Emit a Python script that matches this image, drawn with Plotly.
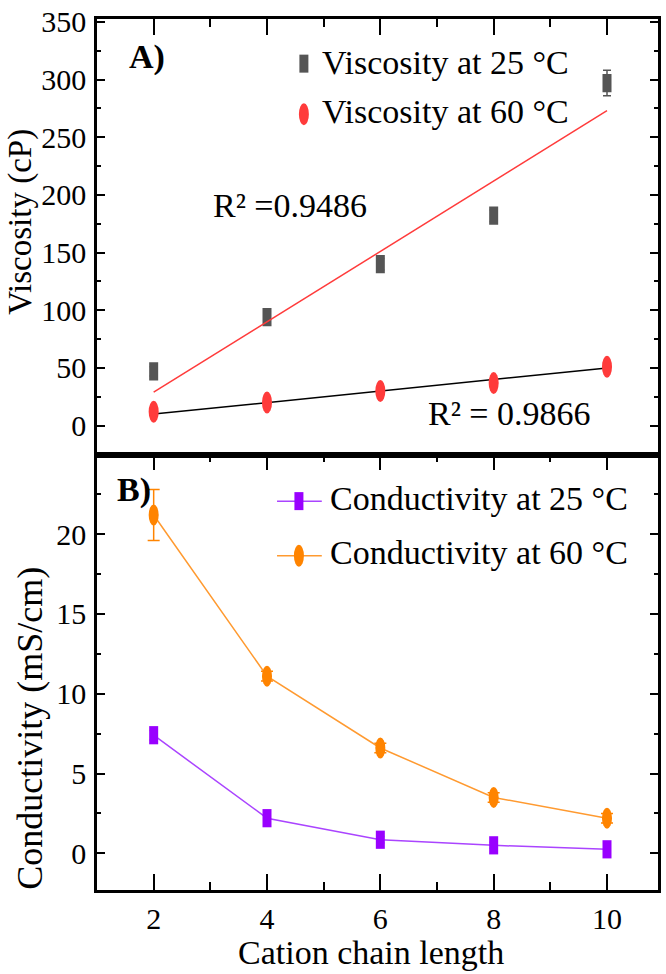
import plotly.graph_objects as go

# ---------------- data ----------------
chain_length = [2, 4, 6, 8, 10]

visc_25 = [47, 94, 140, 182, 297]
visc_25_err = [4, 5, 5, 5, 11]
visc_60 = [12, 20, 30, 37, 51]
visc_60_err = [2, 2, 2, 2, 3]

fit_x = [2, 10]
visc_25_fit = [29, 273]
visc_60_fit = [10, 50]

cond_25 = [7.4, 2.2, 0.85, 0.5, 0.25]
cond_25_err = [0.3, 0.3, 0.2, 0.2, 0.2]
cond_60 = [21.2, 11.1, 6.6, 3.5, 2.2]
cond_60_err = [1.6, 0.3, 0.3, 0.3, 0.3]

x_ticks = [2, 4, 6, 8, 10]
visc_ticks = [0, 50, 100, 150, 200, 250, 300, 350]
cond_ticks = [0, 5, 10, 15, 20]

legend_top = ["Viscosity at 25 °C", "Viscosity at 60 °C"]
legend_bot = ["Conductivity at 25 °C", "Conductivity at 60 °C"]
r2_25 = "R² =0.9486"
r2_60 = "R² = 0.9866"

# ---------------- style ----------------
W, H = 666, 974
ML, MR, MT, MB = 97, 5, 12, 84
PW, PH = W - ML - MR, H - MT - MB
FONT = "Liberation Serif, Times New Roman, serif"
GRAY = "#555555"
RED = "#FF3B3B"
PURPLE = "#9900FF"
PURPLE_LINE = "#AA44FF"
ORANGE = "#FF8400"
ORANGE_LINE = "#FF9A30"
RECT_SIZE = 13   # line-ns symbol height is ~1.4*size


def px(x):
    return (x - ML) / PW


def py(y):
    return (H - MB - y) / PH


fig = go.Figure()

# top panel: viscosity
fig.add_trace(go.Scatter(
    x=chain_length, y=visc_25, mode="markers", xaxis="x2", yaxis="y2",
    marker=dict(symbol="line-ns", size=RECT_SIZE, line=dict(width=9, color=GRAY), color=GRAY),
    error_y=dict(type="data", array=visc_25_err, color=GRAY, thickness=1.5, width=4),
    showlegend=False))
fig.add_trace(go.Scatter(
    x=fit_x, y=visc_25_fit, mode="lines", xaxis="x2", yaxis="y2",
    line=dict(color=RED, width=1.5), showlegend=False))
fig.add_trace(go.Scatter(
    x=fit_x, y=visc_60_fit, mode="lines", xaxis="x2", yaxis="y2",
    line=dict(color="black", width=1.5), showlegend=False))
fig.add_trace(go.Scatter(
    x=chain_length, y=visc_60, mode="markers", xaxis="x2", yaxis="y2",
    marker=dict(symbol="circle", size=9, color=RED, line=dict(width=0)),
    error_y=dict(type="data", array=visc_60_err, color=RED, thickness=1.5, width=4),
    showlegend=False))

# bottom panel: conductivity
fig.add_trace(go.Scatter(
    x=chain_length, y=cond_25, mode="lines+markers", xaxis="x", yaxis="y",
    line=dict(color=PURPLE_LINE, width=1.5),
    marker=dict(symbol="line-ns", size=RECT_SIZE, line=dict(width=9, color=PURPLE), color=PURPLE),
    error_y=dict(type="data", array=cond_25_err, color=PURPLE, thickness=1.5, width=4),
    showlegend=False))
fig.add_trace(go.Scatter(
    x=chain_length, y=cond_60, mode="lines+markers", xaxis="x", yaxis="y",
    line=dict(color=ORANGE_LINE, width=1.5),
    marker=dict(symbol="circle", size=9, color=ORANGE, line=dict(width=0)),
    error_y=dict(type="data", array=cond_60_err, color=ORANGE, thickness=1.5, width=6),
    showlegend=False))

shapes = []
# elliptical markers anchored on the data points
for xv, yv in zip(chain_length, visc_60):
    shapes.append(dict(type="circle", xref="x2", yref="y2", xsizemode="pixel", ysizemode="pixel",
                       xanchor=xv, yanchor=yv, x0=-5, x1=5, y0=-11, y1=11,
                       fillcolor=RED, line=dict(width=0)))
for xv, yv in zip(chain_length, cond_60):
    shapes.append(dict(type="circle", xref="x", yref="y", xsizemode="pixel", ysizemode="pixel",
                       xanchor=xv, yanchor=yv, x0=-5, x1=5, y0=-10.5, y1=10.5,
                       fillcolor=ORANGE, line=dict(width=0)))

# manual legends
def rect_marker(xp, yp, color):
    return dict(type="rect", xref="paper", yref="paper", xsizemode="pixel", ysizemode="pixel",
                xanchor=px(xp), yanchor=py(yp), x0=-4.5, x1=4.5, y0=-9, y1=9,
                fillcolor=color, line=dict(width=0))


def ell_marker(xp, yp, color):
    return dict(type="circle", xref="paper", yref="paper", xsizemode="pixel", ysizemode="pixel",
                xanchor=px(xp), yanchor=py(yp), x0=-5, x1=5, y0=-11, y1=11,
                fillcolor=color, line=dict(width=0))


def leg_line(x0, x1, yp, color):
    return dict(type="line", xref="paper", yref="paper", x0=px(x0), x1=px(x1), y0=py(yp), y1=py(yp),
                line=dict(color=color, width=1.5))


shapes += [
    rect_marker(305, 57, GRAY),
    ell_marker(305, 108, RED),
    leg_line(278, 323, 498, PURPLE_LINE),
    rect_marker(300, 498, PURPLE),
    leg_line(278, 323, 553, ORANGE_LINE),
    ell_marker(300, 553, ORANGE),
]

annotations = []


def text(s, xp, yp, size, xanchor="left", angle=0, bold=False):
    annotations.append(dict(
        text=f"<b>{s}</b>" if bold else s, x=px(xp), y=py(yp), xref="paper", yref="paper",
        xanchor=xanchor, yanchor="middle", showarrow=False, textangle=angle,
        font=dict(family=FONT, size=size, color="black")))


text(legend_top[0], 321, 56, 34)
text(legend_top[1], 321, 105, 34)
text(legend_bot[0], 329, 495, 34)
text(legend_bot[1], 329, 550, 34)
text("A)", 127, 50, 34, bold=True)
text("B)", 115, 487, 34, bold=True)
text(r2_25, 212, 200, 34)
text(r2_60, 428, 410, 34)
text("Viscosity (cP)", 20, 216, 33, xanchor="center", angle=-90)
text("Conductivity (mS/cm)", 30, 727, 36, xanchor="center", angle=-90)
text("Cation chain length", 372, 953, 34, xanchor="center")

axis_common = dict(showline=True, linecolor="black", linewidth=2.5, mirror="ticks",
                   ticks="inside", tickcolor="black", tickwidth=2.2,
                   showgrid=False, zeroline=False, ticklabeloverflow="allow",
                   tickfont=dict(family=FONT, size=30, color="black"))

fig.update_layout(
    width=W, height=H,
    margin=dict(l=ML, r=MR, t=MT, b=MB),
    paper_bgcolor="white", plot_bgcolor="white",
    font=dict(family=FONT, size=30, color="black"),
    showlegend=False,
    xaxis=dict(**axis_common, anchor="y", range=[1, 10.9], tickvals=x_ticks, ticklen=16,
               ticklabelstandoff=0,
               minor=dict(ticks="inside", ticklen=8, tickwidth=2, tickcolor="black", dtick=1, tick0=1)),
    yaxis=dict(**axis_common, domain=[0, 0.5], range=[-2.3, 24.99], tickvals=cond_ticks, ticklen=8,
               ticklabelstandoff=2,
               minor=dict(ticks="inside", ticklen=4, tickwidth=2, tickcolor="black", dtick=2.5, tick0=0)),
    xaxis2=dict(showline=True, linecolor="black", linewidth=2.5, mirror=True, side="top",
                ticks="inside", tickcolor="black", tickwidth=2.2, ticklen=16,
                showgrid=False, zeroline=False, showticklabels=False,
                anchor="y2", range=[1, 10.9], tickvals=x_ticks, matches="x",
                minor=dict(ticks="inside", ticklen=8, tickwidth=2, tickcolor="black", dtick=1, tick0=1)),
    yaxis2=dict(**axis_common, domain=[0.5, 1], anchor="x2", range=[-25, 352.5], tickvals=visc_ticks,
                ticklen=8, ticklabelstandoff=2,
                minor=dict(ticks="inside", ticklen=4, tickwidth=2, tickcolor="black", dtick=25, tick0=0)),
    shapes=shapes,
    annotations=annotations,
)

fig.write_html("out.html", config={"displayModeBar": False},
               post_script="document.body.style.margin='0px';")
